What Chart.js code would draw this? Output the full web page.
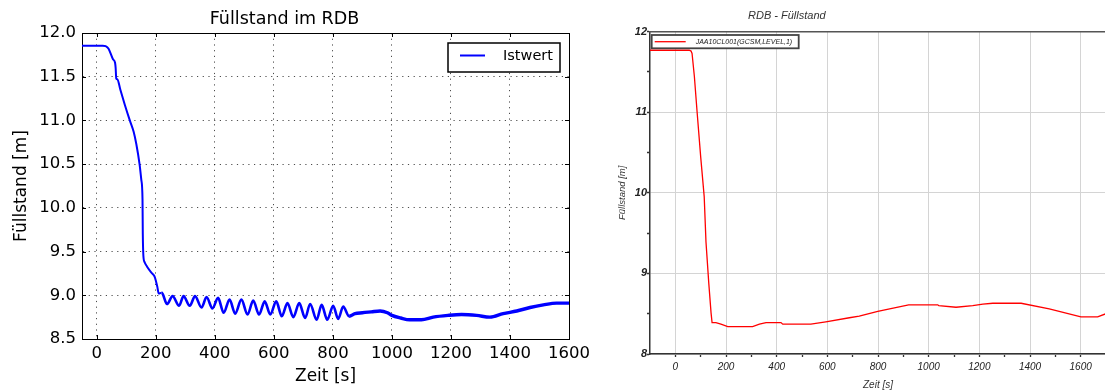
<!DOCTYPE html>
<html>
<head>
<meta charset="utf-8">
<title>Füllstand im RDB</title>
<script src="https://cdn.jsdelivr.net/npm/chart.js@4.4.1/dist/chart.umd.min.js"></script>
<style>
  html, body { margin: 0; padding: 0; background: #fff; overflow: hidden; }
  #wrap { position: relative; width: 1105px; height: 392px; overflow: hidden; }
  #left { position: absolute; left: 0; top: 0; }
  #right { position: absolute; left: 600px; top: 0; }
  #rightTitle { position: absolute; left: 748px; top: 9px; font: italic 11px "Liberation Sans", Arial, sans-serif; color: #333; white-space: nowrap; }
</style>
</head>
<body>
<div id="wrap">
  <canvas id="left" width="600" height="392"></canvas>
  <canvas id="right" width="510" height="392"></canvas>
  <div id="rightTitle">RDB - Füllstand</div>
</div>
<script>
// left plot: measured level (Istwert)
const timeIst = [-50, 20, 30, 40, 55, 62, 64, 66, 70, 80,
  95, 112, 125, 134, 145, 151, 155, 156, 158, 162,
  170, 185, 195, 200, 205, 210, 220, 238, 257, 279,
  294, 315, 333, 355, 372, 392, 411, 430, 450, 469,
  490, 511, 530, 550, 569, 588, 608, 627, 646, 666,
  686, 706, 723, 745, 762, 781, 801, 818, 835, 855,
  875, 900, 930, 960, 985, 1000, 1030, 1060, 1100, 1140,
  1190, 1236, 1287, 1332, 1377, 1423, 1468, 1513, 1558, 1600];
const levelIst = [11.855, 11.855, 11.85, 11.82, 11.70, 11.66, 11.60, 11.48, 11.47, 11.35,
  11.18, 11.00, 10.87, 10.73, 10.50, 10.32, 10.10, 9.70, 9.45, 9.38,
  9.33, 9.26, 9.22, 9.17, 9.10, 9.02, 9.03, 8.90, 8.99, 8.88,
  8.99, 8.88, 8.99, 8.86, 8.98, 8.85, 8.97, 8.80, 8.95, 8.79,
  8.95, 8.78, 8.94, 8.78, 8.93, 8.78, 8.93, 8.76, 8.91, 8.75,
  8.91, 8.74, 8.90, 8.72, 8.89, 8.72, 8.88, 8.73, 8.87, 8.76,
  8.79, 8.80, 8.81, 8.82, 8.80, 8.77, 8.74, 8.72, 8.72, 8.75,
  8.77, 8.78, 8.77, 8.75, 8.79, 8.82, 8.86, 8.89, 8.91, 8.91];

// right plot: simulated level JAA10CL001
const timeSim = [-100, 55, 62, 66, 75, 86, 100, 114, 121, 132,
  141, 145, 160, 180, 207, 305, 332, 358, 417, 424,
  535, 594, 687, 726, 799, 921, 1036, 1040, 1108, 1174,
  1214, 1253, 1365, 1476, 1601, 1667, 1700];
const levelSim = [11.77, 11.77, 11.76, 11.73, 11.45, 11.00, 10.45, 9.95, 9.39, 8.88,
  8.51, 8.39, 8.39, 8.37, 8.34, 8.34, 8.37, 8.39, 8.39, 8.37,
  8.37, 8.40, 8.45, 8.47, 8.53, 8.61, 8.61, 8.60, 8.58, 8.60,
  8.62, 8.63, 8.63, 8.56, 8.46, 8.46, 8.50];

const leftXTicks = [0, 200, 400, 600, 800, 1000, 1200, 1400, 1600];
const leftYTicks = [8.5, 9.0, 9.5, 10.0, 10.5, 11.0, 11.5, 12.0];
const rightXTicks = [0, 100, 200, 300, 400, 500, 600, 700, 800, 900, 1000, 1100, 1200, 1300, 1400, 1500, 1600, 1700];
const rightYTicks = [8, 8.5, 9, 9.5, 10, 10.5, 11, 11.5, 12];

const setTicks = (arr) => (scale) => { scale.ticks = arr.map(v => ({ value: v })); };

// matplotlib style tick marks pointing into the plot
const innerTicks = {
  id: 'innerTicks',
  afterDraw(chart) {
    const { ctx, chartArea: a, scales } = chart;
    ctx.save();
    ctx.strokeStyle = '#000';
    ctx.lineWidth = 1;
    ctx.beginPath();
    scales.x.ticks.forEach(t => {
      const px = Math.round(scales.x.getPixelForValue(t.value)) + 0.5;
      ctx.moveTo(px, a.bottom); ctx.lineTo(px, a.bottom - 4);
      ctx.moveTo(px, a.top); ctx.lineTo(px, a.top + 4);
    });
    scales.y.ticks.forEach(t => {
      const py = Math.round(scales.y.getPixelForValue(t.value)) + 0.5;
      ctx.moveTo(a.left, py); ctx.lineTo(a.left + 4, py);
      ctx.moveTo(a.right, py); ctx.lineTo(a.right - 4, py);
    });
    ctx.stroke();
    ctx.restore();
  }
};

// legend with a frame, drawn inside the chart area
const boxLegend = {
  id: 'boxLegend',
  afterDraw(chart, args, o) {
    const { ctx, chartArea: a } = chart;
    const ds = chart.data.datasets[0];
    const x0 = o.side === 'right' ? a.right - o.mx - o.w : a.left + o.mx;
    const y0 = a.top + o.my;
    ctx.save();
    ctx.fillStyle = '#fff';
    ctx.fillRect(x0, y0, o.w, o.h);
    ctx.strokeStyle = o.frame;
    ctx.lineWidth = o.frameWidth;
    ctx.strokeRect(x0, y0, o.w, o.h);
    ctx.strokeStyle = ds.borderColor;
    ctx.lineWidth = o.lineWidth;
    ctx.beginPath();
    ctx.moveTo(x0 + o.l1, y0 + o.ly);
    ctx.lineTo(x0 + o.l2, y0 + o.ly);
    ctx.stroke();
    ctx.fillStyle = o.color;
    ctx.font = o.font;
    ctx.textBaseline = 'middle';
    ctx.fillText(ds.label, x0 + o.tx, y0 + o.ty);
    ctx.restore();
  }
};

const mpl = 'DejaVu Sans';

new Chart('left', {
  type: 'line',
  data: {
    datasets: [{
      label: 'Istwert',
      data: timeIst.map((t, i) => ({ x: t, y: levelIst[i] })),
      borderColor: '#0000ff',
      borderWidth: 2,
      pointRadius: 0,
      cubicInterpolationMode: 'monotone',
      segment: {
        borderWidth: c => c.p0.parsed.x >= 855 ? 3.4 : (c.p0.parsed.x >= 220 ? 2.6 : 2)
      }
    }]
  },
  options: {
    responsive: false,
    animation: false,
    layout: { padding: { right: 31 } },
    plugins: {
      legend: { display: false },
      tooltip: { enabled: false },
      title: {
        display: true,
        text: 'Füllstand im RDB',
        color: '#000',
        font: { family: mpl, size: 17.5, weight: 'normal' },
        padding: { top: 9, bottom: 3 }
      },
      boxLegend: {
        side: 'right', mx: 9, my: 10, w: 112, h: 29,
        frame: '#000', frameWidth: 1.5, lineWidth: 2,
        l1: 12, l2: 37, ly: 12.5, tx: 55, ty: 13.5,
        color: '#000', font: '14.5px "DejaVu Sans"'
      }
    },
    scales: {
      x: {
        type: 'linear', min: -50, max: 1600,
        afterBuildTicks: setTicks(leftXTicks),
        afterFit: s => { s.height = 53; },
        grid: { color: 'rgba(0,0,0,0.7)', lineWidth: 1, drawTicks: false },
        border: { display: true, color: '#000', width: 1, dash: [1.2, 4.5] },
        ticks: { color: '#000', font: { family: mpl, size: 16.5 }, padding: 5, maxRotation: 0, callback: v => String(v) },
        title: { display: true, text: 'Zeit [s]', color: '#000', font: { family: mpl, size: 17 }, padding: { top: 0, bottom: 5 } }
      },
      y: {
        type: 'linear', min: 8.5, max: 12.0,
        afterBuildTicks: setTicks(leftYTicks),
        afterFit: s => { s.width = 82; },
        grid: { color: 'rgba(0,0,0,0.7)', lineWidth: 1, drawTicks: false },
        border: { display: true, color: '#000', width: 1, dash: [1.2, 4.5] },
        ticks: { color: '#000', font: { family: mpl, size: 16.5 }, padding: 6, callback: v => v.toFixed(1) },
        title: { display: true, text: 'Füllstand [m]', color: '#000', font: { family: mpl, size: 17 }, padding: { top: 11, bottom: 0 } }
      },
      xTop: {
        type: 'linear', position: 'top', min: -50, max: 1600,
        ticks: { display: false }, grid: { display: false },
        border: { display: true, color: '#000', width: 1 },
        afterFit: s => { s.height = 0; }
      },
      yRight: {
        type: 'linear', position: 'right', min: 8.5, max: 12.0,
        ticks: { display: false }, grid: { display: false },
        border: { display: true, color: '#000', width: 1 },
        afterFit: s => { s.width = 0; }
      }
    }
  },
  plugins: [innerTicks, boxLegend]
});

const ms = '"Liberation Sans", Arial, sans-serif';

new Chart('right', {
  type: 'line',
  data: {
    datasets: [{
      label: 'JAA10CL001(GCSM,LEVEL,1)',
      data: timeSim.map((t, i) => ({ x: t, y: levelSim[i] })),
      borderColor: '#ff0000',
      borderWidth: 1.3,
      pointRadius: 0,
      tension: 0
    }]
  },
  options: {
    responsive: false,
    animation: false,
    layout: { padding: { top: 31.7, right: 3.4 } },
    plugins: {
      legend: { display: false },
      tooltip: { enabled: false },
      title: { display: false },
      boxLegend: {
        side: 'left', mx: 1.7, my: 3.3, w: 147, h: 13.3,
        frame: '#444', frameWidth: 1.8, lineWidth: 1.3,
        l1: 3, l2: 34, ly: 6.7, tx: 44, ty: 7,
        color: '#222', font: 'italic 7px "Liberation Sans"'
      }
    },
    scales: {
      x: {
        type: 'linear', min: -100, max: 1700,
        afterBuildTicks: setTicks(rightXTicks),
        afterFit: s => { s.height = 38; },
        grid: {
          color: c => (c.tick && c.tick.value % 200 === 0) ? '#d4d4d4' : 'transparent',
          lineWidth: 1, tickLength: 3, tickColor: '#333', tickWidth: 1.3
        },
        border: { display: true, color: '#333', width: 1.5 },
        ticks: {
          color: '#222', font: { family: ms, size: 10, style: 'italic' }, padding: 4, maxRotation: 0, autoSkip: false,
          callback: v => v % 200 === 0 ? String(v) : ''
        },
        title: { display: true, text: 'Zeit [s]', color: '#333', font: { family: ms, size: 10, style: 'italic' }, padding: { top: 0, bottom: 1 } }
      },
      y: {
        type: 'linear', min: 8, max: 12,
        afterBuildTicks: setTicks(rightYTicks),
        afterFit: s => { s.width = 50; },
        grid: {
          color: c => (c.tick && Number.isInteger(c.tick.value)) ? '#d4d4d4' : 'transparent',
          lineWidth: 1, tickLength: 3, tickColor: '#333', tickWidth: 1.3
        },
        border: { display: true, color: '#333', width: 1.5 },
        ticks: {
          color: '#222', font: { family: ms, size: 11, style: 'italic', weight: 'bold' }, padding: 0, autoSkip: false,
          callback: v => Number.isInteger(v) ? String(v) : ''
        },
        title: { display: true, text: 'Füllstand [m]', color: '#333', font: { family: ms, size: 9.5, style: 'italic' }, padding: { top: 17, bottom: 0 } }
      },
      xTop: {
        type: 'linear', position: 'top', min: -100, max: 1700,
        ticks: { display: false }, grid: { display: false },
        border: { display: true, color: '#555', width: 1.5 },
        afterFit: s => { s.height = 0; }
      }
    }
  },
  plugins: [boxLegend]
});
</script>
</body>
</html>
